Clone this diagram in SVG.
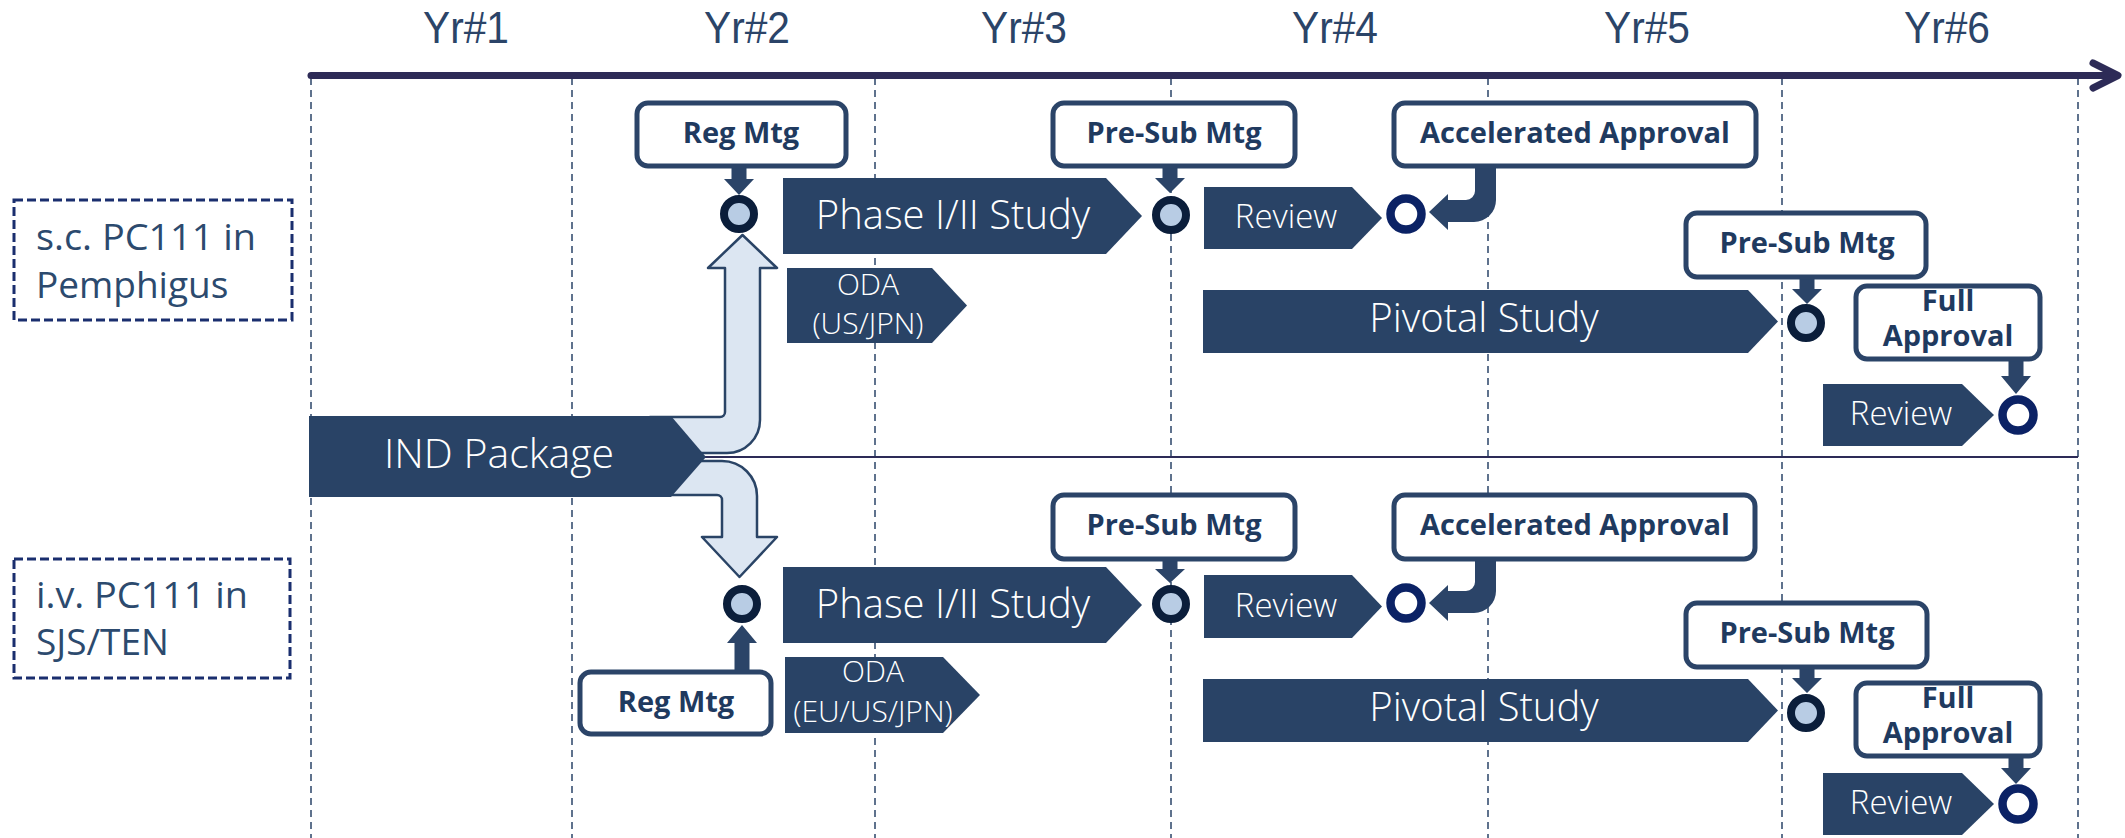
<svg xmlns="http://www.w3.org/2000/svg" width="2125" height="838" viewBox="0 0 2125 838">
<defs>
<style>
.yr{font-family:"Liberation Sans",Arial,sans-serif;font-size:44px;fill:#2B4468;text-anchor:middle}
.vd{stroke:#2B4468;stroke-width:1.5;stroke-dasharray:7 5;fill:none}
.axis{stroke:#2D2B57;stroke-width:7;fill:none;stroke-linecap:round;stroke-linejoin:round}
.div{stroke:#2D2B57;stroke-width:2}
.lane{fill:none;stroke:#1A2E6E;stroke-width:3;stroke-dasharray:9 4}
.lt{font-family:"Open Sans",sans-serif;font-size:37px;fill:#2C4A6E}
.sh{fill:#294366}
.wt{font-family:"Open Sans",sans-serif;font-weight:300;fill:#fff;text-anchor:middle}
.box{fill:#fff;stroke:#2B4468;stroke-width:5}
.bt{font-family:"Open Sans",sans-serif;font-weight:700;font-size:29px;fill:#1F3A5F;text-anchor:middle}
.sa{fill:#2B4468}
.big{fill:#DCE6F2;stroke:#2A4466;stroke-width:2.5;stroke-linejoin:round}
.mf{fill:#B8CCE4;stroke:#0B1E3B;stroke-width:8}
.mo{fill:#fff;stroke:#0B2265;stroke-width:8.5}
</style>
</defs>
<rect width="2125" height="838" fill="#fff"/>
<g id="grid">
<line class="vd" x1="311" y1="78" x2="311" y2="838"/>
<line class="vd" x1="572" y1="78" x2="572" y2="838"/>
<line class="vd" x1="875" y1="78" x2="875" y2="838"/>
<line class="vd" x1="1171" y1="78" x2="1171" y2="838"/>
<line class="vd" x1="1488" y1="78" x2="1488" y2="838"/>
<line class="vd" x1="1782" y1="78" x2="1782" y2="838"/>
<line class="vd" x1="2078" y1="78" x2="2078" y2="838"/>
</g>
<g id="timeline">
<line class="axis" x1="311" y1="75.5" x2="2114" y2="75.5" stroke-linecap="butt"/>
<polyline class="axis" points="2093,63 2118,75.5 2093,88"/>
<text class="yr" x="466" y="43" textLength="86" lengthAdjust="spacingAndGlyphs">Yr#1</text>
<text class="yr" x="747" y="43" textLength="86" lengthAdjust="spacingAndGlyphs">Yr#2</text>
<text class="yr" x="1024" y="43" textLength="86" lengthAdjust="spacingAndGlyphs">Yr#3</text>
<text class="yr" x="1335" y="43" textLength="86" lengthAdjust="spacingAndGlyphs">Yr#4</text>
<text class="yr" x="1647" y="43" textLength="86" lengthAdjust="spacingAndGlyphs">Yr#5</text>
<text class="yr" x="1947" y="43" textLength="86" lengthAdjust="spacingAndGlyphs">Yr#6</text>
</g>
<g id="lane-sc">
<rect class="lane" x="14" y="200" width="278" height="120"/>
<text class="lt" x="36" y="250" textLength="220" lengthAdjust="spacingAndGlyphs">s.c. PC111 in</text>
<text class="lt" x="36" y="298">Pemphigus</text>
</g>
<g id="lane-iv">
<rect class="lane" x="14" y="559" width="276" height="119"/>
<text class="lt" x="36" y="608" textLength="212" lengthAdjust="spacingAndGlyphs">i.v. PC111 in</text>
<text class="lt" x="36" y="655">SJS/TEN</text>
</g>
<g id="connectors">
<path class="big" d="M 650 417 H 720 A 5 5 0 0 0 725 412 V 268 H 708 L 742.5 235 L 777 268 H 760 V 420 A 33 33 0 0 1 727 453 H 650 Z"/>
<path class="big" d="M 650 461 H 722 A 35 35 0 0 1 757 496 V 537 H 777 L 739.5 577 L 702 537 H 722 V 500 A 5 5 0 0 0 717 495 H 650 Z"/>
<line class="div" x1="705" y1="457" x2="2078" y2="457"/>
<path class="sa" d="M 731.5 164 H 746.5 V 179 H 754 L 739 195 L 724 179 H 731.5 Z"/>
<path class="sa" d="M 1162.5 164 H 1177.5 V 178 H 1185 L 1170 193 L 1155 178 H 1162.5 Z"/>
<path class="sa" d="M 1475 163 H 1496 V 200 A 22 22 0 0 1 1474 222 H 1448 V 230 L 1429 212 L 1448 194 V 200 H 1466 A 9 9 0 0 0 1475 191 Z"/>
<path class="sa" d="M 1799.5 275 H 1814.5 V 289 H 1822 L 1807 304 L 1792 289 H 1799.5 Z"/>
<path class="sa" d="M 2008.5 357 H 2023.5 V 376 H 2031 L 2016 394 L 2001 376 H 2008.5 Z"/>
<path class="sa" d="M 734.5 674 H 749.5 V 643 H 757 L 742 625 L 727 643 H 734.5 Z"/>
<path class="sa" d="M 1162.5 557 H 1177.5 V 569 H 1185 L 1170 583 L 1155 569 H 1162.5 Z"/>
<path class="sa" d="M 1475 554 H 1496 V 591 A 22 22 0 0 1 1474 613 H 1448 V 621 L 1429 603 L 1448 585 V 591 H 1466 A 9 9 0 0 0 1475 582 Z"/>
<path class="sa" d="M 1799.5 665 H 1814.5 V 678 H 1822 L 1807 693 L 1792 678 H 1799.5 Z"/>
<path class="sa" d="M 2008.5 754 H 2023.5 V 768 H 2031 L 2016 784 L 2001 768 H 2008.5 Z"/>
</g>
<g id="ind-package">
<polygon class="sh" points="309,416 671,416 706,457 671,497 309,497"/>
<text class="wt" x="499" y="468" font-size="41">IND Package</text>
</g>
<g id="r1-reg-mtg">
<rect class="box" x="637" y="103" width="209" height="63" rx="11"/>
<text class="bt" x="741" y="143">Reg Mtg</text>
</g>
<g id="r1-m1"><circle class="mf" cx="739" cy="214" r="15"/></g>
<g id="r1-phase">
<polygon class="sh" points="783,178 1106,178 1142,216 1106,254 783,254"/>
<text class="wt" x="953" y="229" font-size="40">Phase I/II Study</text>
</g>
<g id="r1-oda">
<polygon class="sh" points="787,268 932,268 967,305.5 932,343 787,343"/>
<text class="wt" x="868" y="295" font-size="30">ODA</text>
<text class="wt" x="868" y="334" font-size="30">(US/JPN)</text>
</g>
<g id="r1-presub">
<rect class="box" x="1053" y="103" width="242" height="63" rx="11"/>
<text class="bt" x="1174" y="143">Pre-Sub Mtg</text>
</g>
<g id="r1-m2"><circle class="mf" cx="1171" cy="215" r="15"/></g>
<g id="r1-review">
<polygon class="sh" points="1204,187 1352,187 1382,218 1352,249 1204,249"/>
<text class="wt" x="1286" y="228" font-size="33">Review</text>
</g>
<g id="r1-m3"><circle class="mo" cx="1406" cy="214" r="15.5"/></g>
<g id="r1-accel">
<rect class="box" x="1394" y="103" width="362" height="63" rx="11"/>
<text class="bt" x="1575" y="143">Accelerated Approval</text>
</g>
<g id="r1-presub2">
<rect class="box" x="1686" y="213" width="240" height="64" rx="11"/>
<text class="bt" x="1807" y="253">Pre-Sub Mtg</text>
</g>
<g id="r1-m4"><circle class="mf" cx="1806" cy="323" r="15"/></g>
<g id="r1-pivotal">
<polygon class="sh" points="1203,290 1748,290 1778,321.5 1748,353 1203,353"/>
<text class="wt" x="1484" y="332" font-size="40">Pivotal Study</text>
</g>
<g id="r1-full">
<rect class="box" x="1856" y="286" width="184" height="73" rx="11"/>
<text class="bt" x="1948" y="311">Full</text>
<text class="bt" x="1948" y="346">Approval</text>
</g>
<g id="r1-review2">
<polygon class="sh" points="1823,384 1962,384 1994,415 1962,446 1823,446"/>
<text class="wt" x="1901" y="425" font-size="33">Review</text>
</g>
<g id="r1-m5"><circle class="mo" cx="2018" cy="415" r="15.5"/></g>
<g id="r2-m1"><circle class="mf" cx="742" cy="604" r="15"/></g>
<g id="r2-reg-mtg">
<rect class="box" x="580" y="672" width="191" height="62" rx="11"/>
<text class="bt" x="676" y="712">Reg Mtg</text>
</g>
<g id="r2-phase">
<polygon class="sh" points="783,567 1106,567 1142,605 1106,643 783,643"/>
<text class="wt" x="953" y="618" font-size="40">Phase I/II Study</text>
</g>
<g id="r2-oda">
<polygon class="sh" points="785,657 943,657 980,695 943,733 785,733"/>
<text class="wt" x="873" y="682" font-size="30">ODA</text>
<text class="wt" x="873" y="722" font-size="30">(EU/US/JPN)</text>
</g>
<g id="r2-presub">
<rect class="box" x="1053" y="495" width="242" height="64" rx="11"/>
<text class="bt" x="1174" y="535">Pre-Sub Mtg</text>
</g>
<g id="r2-m2"><circle class="mf" cx="1171" cy="604" r="15"/></g>
<g id="r2-review">
<polygon class="sh" points="1204,575 1352,575 1382,606.5 1352,638 1204,638"/>
<text class="wt" x="1286" y="617" font-size="33">Review</text>
</g>
<g id="r2-m3"><circle class="mo" cx="1406" cy="603" r="15.5"/></g>
<g id="r2-accel">
<rect class="box" x="1394" y="495" width="361" height="64" rx="11"/>
<text class="bt" x="1575" y="535">Accelerated Approval</text>
</g>
<g id="r2-presub2">
<rect class="box" x="1686" y="603" width="241" height="64" rx="11"/>
<text class="bt" x="1807" y="643">Pre-Sub Mtg</text>
</g>
<g id="r2-m4"><circle class="mf" cx="1806" cy="713" r="15"/></g>
<g id="r2-pivotal">
<polygon class="sh" points="1203,679 1748,679 1778,710.5 1748,742 1203,742"/>
<text class="wt" x="1484" y="721" font-size="40">Pivotal Study</text>
</g>
<g id="r2-full">
<rect class="box" x="1856" y="683" width="184" height="73" rx="11"/>
<text class="bt" x="1948" y="708">Full</text>
<text class="bt" x="1948" y="743">Approval</text>
</g>
<g id="r2-review2">
<polygon class="sh" points="1823,773 1962,773 1994,804 1962,835 1823,835"/>
<text class="wt" x="1901" y="814" font-size="33">Review</text>
</g>
<g id="r2-m5"><circle class="mo" cx="2018" cy="804" r="15.5"/></g>
</svg>
